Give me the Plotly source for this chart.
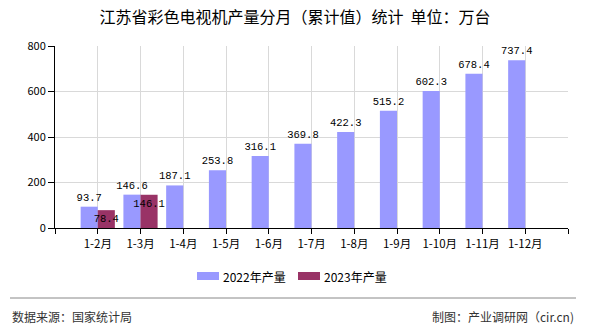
import plotly.graph_objects as go

categories = ["1-2月", "1-3月", "1-4月", "1-5月", "1-6月", "1-7月", "1-8月", "1-9月", "1-10月", "1-11月", "1-12月"]
values_2022 = [93.7, 146.6, 187.1, 253.8, 316.1, 369.8, 422.3, 515.2, 602.3, 678.4, 737.4]
values_2023 = [78.4, 146.1]
y_ticks = [0, 200, 400, 600, 800]
series_names = ["2022年产量", "2023年产量"]
series_colors = ["#9999FF", "#993366"]

FONT = "Noto Sans CJK SC, SimSun, sans-serif"
LABEL_FONT = "Liberation Mono, DejaVu Sans Mono, monospace"
idx = list(range(len(categories)))

# plot area in px: x 55..568, y 46..228
L, R, T, B = 55, 568, 46, 228
W, H = R - L, B - T


def px(xp):
    return (xp - L) / W


def py(yp):
    return (B - yp) / H


fig = go.Figure()
fig.add_trace(go.Bar(
    x=idx, y=values_2022, name=series_names[0],
    marker=dict(color=series_colors[0], line=dict(width=0)),
    text=[f"{v:.1f}" for v in values_2022], textposition="outside",
    textfont=dict(size=10.5, color="#000000", family=LABEL_FONT),
    constraintext="none", cliponaxis=False, textangle=0,
))
fig.add_trace(go.Bar(
    x=idx[:len(values_2023)], y=values_2023, name=series_names[1],
    marker=dict(color=series_colors[1], line=dict(width=0)),
    text=[f"{v:.1f}" for v in values_2023], textposition="inside",
    insidetextanchor="end",
    textfont=dict(size=10.5, color="#000000", family=LABEL_FONT),
    constraintext="none", cliponaxis=False, textangle=0,
))

tickvals = [-1] + idx + [len(categories)]
ticktext = [""] + categories + [""]

shapes = [dict(type="line", xref="paper", yref="paper",
               x0=px(10), x1=px(576), y0=py(298), y1=py(298),
               line=dict(color="#888888", width=1))]
annotations = [
    dict(text="数据来源：国家统计局", xref="paper", yref="paper",
         x=px(10), y=py(316), xanchor="left", yanchor="middle",
         showarrow=False, font=dict(size=12, color="#333333", family=FONT)),
    dict(text="制图：产业调研网（cir.cn)", xref="paper", yref="paper",
         x=px(576), y=py(316), xanchor="right", yanchor="middle",
         showarrow=False, font=dict(size=12, color="#333333", family=FONT)),
]

# manual legend (rectangular swatches)
legend_x = [197, 298]
for name, color, lx in zip(series_names, series_colors, legend_x):
    shapes.append(dict(type="rect", xref="paper", yref="paper",
                       x0=px(lx), x1=px(lx + 22), y0=py(280), y1=py(272),
                       fillcolor=color, line=dict(width=0)))
    annotations.append(dict(text=name, xref="paper", yref="paper",
                            x=px(lx + 24), y=py(276), xanchor="left", yanchor="middle",
                            showarrow=False,
                            font=dict(size=12, color="#000000", family=FONT)))

fig.update_layout(
    width=590, height=330,
    margin=dict(l=L, r=590 - R, t=T, b=330 - B),
    paper_bgcolor="white", plot_bgcolor="white",
    barmode="group", bargap=0.2, bargroupgap=0,
    font=dict(family=FONT, size=11, color="#000000"),
    title=dict(text="江苏省彩色电视机产量分月（累计值）统计  单位：万台",
               x=0.5, xanchor="center", y=1 - 17 / 330, yanchor="middle",
               font=dict(size=16, color="#000000", family=FONT)),
    showlegend=False,
    xaxis=dict(
        range=[-1, len(categories)], tickmode="array", tickvals=tickvals, ticktext=ticktext,
        showgrid=True, gridcolor="#d9d9d9", gridwidth=1,
        showline=True, linecolor="#000000", linewidth=1,
        ticks="outside", ticklen=5, tickcolor="#000000",
        tickfont=dict(size=11.5, color="#000000", family=FONT),
        zeroline=False, fixedrange=True,
    ),
    yaxis=dict(
        range=[0, 800], tickmode="array", tickvals=y_ticks,
        showgrid=True, gridcolor="#d9d9d9", gridwidth=1,
        showline=True, linecolor="#000000", linewidth=1,
        ticks="outside", ticklen=6, tickcolor="#000000",
        tickfont=dict(size=11, color="#000000", family=FONT),
        zeroline=False, fixedrange=True,
    ),
    shapes=shapes,
    annotations=annotations,
)

fig.write_html("out.html")
